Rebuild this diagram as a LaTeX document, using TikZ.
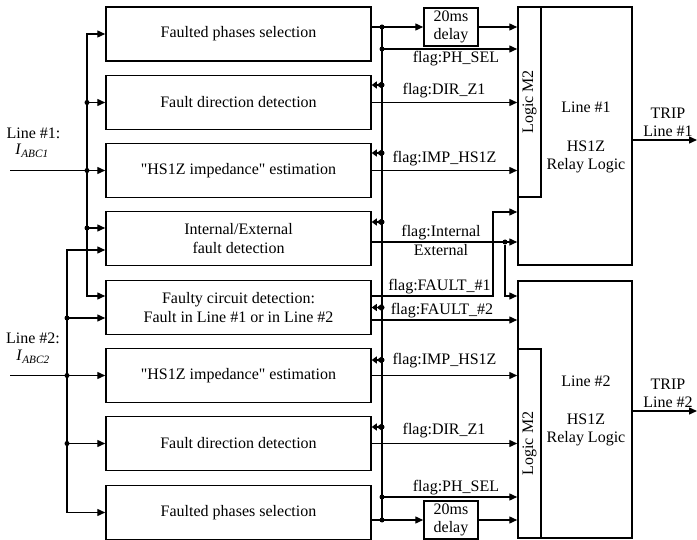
\documentclass[tikz,border=0pt]{standalone}
\usepackage{fontspec}
\setmainfont{Liberation Serif}
\usepackage{tikz}
\usetikzlibrary{arrows.meta}

\begin{document}
\begin{tikzpicture}[
    x=1pt, y=-1pt,
    every node/.style={font=\fontsize{16}{19}\selectfont},
    block/.style={draw, line width=1.5pt, minimum width=265pt, minimum height=54pt, inner sep=0pt, align=center},
    delaybox/.style={draw, line width=1.5pt, minimum width=54pt, minimum height=38pt, inner sep=0pt, align=center, font=\fontsize{16}{18}\selectfont},
    relay/.style={draw, line width=1.5pt, minimum width=114pt, inner sep=0pt},
    logicm/.style={draw, line width=1.5pt, minimum height=23pt, inner sep=0pt, rotate=90},
    relaytext/.style={align=center, inner sep=0pt, font=\fontsize{16}{18}\selectfont},
    flag/.style={anchor=base, inner sep=0pt},
    wire/.style={line width=1.4pt},
    arrow/.style={-{Triangle[length=8pt,width=7pt]}, line width=1.4pt},
    biarrow/.style={{Triangle[length=8pt,width=7pt]}-{Triangle[length=8pt,width=7pt]}, line width=1.4pt},
    dblarrow/.style={-{Triangle[length=5pt,width=7pt]Triangle[length=5pt,width=7pt]}, line width=1.4pt},
    dot/.style={circle, fill, inner sep=0pt, minimum size=5pt}
]
    \useasboundingbox (0,0) rectangle (697,540);

    % Function blocks
    \node[block] (b1) at (238.5,34) {Faulted phases selection};
    \node[block] (b2) at (238.5,102.5) {Fault direction detection};
    \node[block] (b3) at (238.5,170.5) {\textquotedbl HS1Z impedance\textquotedbl{} estimation};
    \node[block] (b4) at (238.5,238.5) {Internal/External\\fault detection};
    \node[block] (b5) at (238.5,307.5) {Faulty circuit detection:\\Fault in Line \#1 or in Line \#2};
    \node[block] (b6) at (238.5,375.5) {\textquotedbl HS1Z impedance\textquotedbl{} estimation};
    \node[block] (b7) at (238.5,443.5) {Fault direction detection};
    \node[block] (b8) at (238.5,512.5) {Faulted phases selection};

    % Delays
    \node[delaybox] (d1) at (451,27) {20ms\\delay};
    \node[delaybox] (d2) at (451,520) {20ms\\delay};

    % Relay logic Line #1
    \node[relay, minimum height=258pt] (r1) at (575,136) {};
    \node[logicm, minimum width=190pt] (m1) at (529.5,102) {Logic M2};
    \node[relaytext] (t1) at (586,137.5) {Line \#1\\[21pt]HS1Z\\Relay Logic};

    % Relay logic Line #2
    \node[relay, minimum height=257pt] (r2) at (575,409.5) {};
    \node[logicm, minimum width=189pt] (m2) at (529.5,443.5) {Logic M2};
    \node[relaytext] (t2) at (586,411) {Line \#2\\[20pt]HS1Z\\Relay Logic};

    % Buses and ports
    \coordinate (busL1) at (87,0);
    \coordinate (busL2) at (67,0);
    \coordinate (busR) at (382,0);
    \coordinate (p4a) at ([yshift=10.5pt]b4.west);
    \coordinate (p4b) at ([yshift=-11.5pt]b4.west);
    \coordinate (p5a) at ([yshift=11.5pt]b5.west);
    \coordinate (p5b) at ([yshift=-10.5pt]b5.west);
    \coordinate (in1) at (10,170.5);
    \coordinate (in2) at (10,375.5);

    % Line #1 input
    \node[anchor=base, inner sep=0pt] (l1) at (33.5,139) {Line \#1:};
    \node[anchor=base, inner sep=0pt] (i1) at (32,155) {\textit{I}\textsubscript{\textit{ABC1}}};
    \draw[biarrow] (b1.west) -| (busL1 |- p5a) -- (p5a);
    \draw[arrow] (busL1 |- b2.west) -- (b2.west);
    \draw[arrow] (in1) -- (b3.west);
    \draw[arrow] (busL1 |- p4a) -- (p4a);
    \foreach \p [count=\i] in {b2.west, b3.west, p4a}
        \node[dot] (ja\i) at (busL1 |- \p) {};

    % Line #2 input
    \node[anchor=base, inner sep=0pt] (l2) at (33,344) {Line \#2:};
    \node[anchor=base, inner sep=0pt] (i2) at (33,361) {\textit{I}\textsubscript{\textit{ABC2}}};
    \draw[biarrow] (p4b) -| (busL2 |- b8.west) -- (b8.west);
    \draw[arrow] (busL2 |- p5b) -- (p5b);
    \draw[arrow] (in2) -- (b6.west);
    \draw[arrow] (busL2 |- b7.west) -- (b7.west);
    \foreach \p [count=\i] in {p5b, b6.west, b7.west}
        \node[dot] (jb\i) at (busL2 |- \p) {};

    % Phase selection bus
    \draw[wire] (busR |- d1) -- (busR |- d2);
    \draw[arrow] (b1.east |- d1) -- (d1.west);
    \draw[arrow] (d1.east) -- (d1.east -| r1.west);
    \draw[arrow] (busR |- 0,49) -- (r1.west |- 0,49);
    \draw[arrow] (busR |- 0,497) -- (r2.west |- 0,497);
    \draw[arrow] (b8.east |- d2) -- (d2.west);
    \draw[arrow] (d2.east) -- (d2.east -| r2.west);
    \foreach \p [count=\i] in {d1, {0,49}, {0,497}, d2}
        \node[dot] (jc\i) at (busR |- \p) {};
    \foreach \b/\s [count=\i] in {b2/17.5, b3/17.5, b4/16.5, b5/0, b6/15.5, b7/16.5} {
        \coordinate (f\i) at ([yshift=\s pt]\b.east);
        \draw[dblarrow] (f\i -| busR) -- (f\i);
        \node[dot] (fd\i) at (f\i -| busR) {};
    }

    % Flags
    \draw[arrow] (b2.east) -- (b2.east -| r1.west);
    \draw[arrow] (b3.east) -- (b3.east -| r1.west);
    \coordinate (o4) at ([yshift=-3.5pt]b4.east);
    \draw[arrow] (o4) -- (o4 -| r1.west);
    \node[dot] (ie) at (o4 -| 505,0) {};
    \draw[arrow] (ie) |- (r2.west |- 0,296);
    \draw[arrow] (b5.east |- 0,296) -| (493,212) -- (r1.west |- 0,212);
    \draw[arrow] (b5.east |- 0,320) -- (r2.west |- 0,320);
    \draw[arrow] (b6.east) -- (b6.east -| r2.west);
    \draw[arrow] (b7.east) -- (b7.east -| r2.west);

    \node[flag] (fl1) at (456,63) {flag:PH\_SEL};
    \node[flag] (fl2) at (444,95) {flag:DIR\_Z1};
    \node[flag] (fl3) at (444.5,163) {flag:IMP\_HS1Z};
    \node[flag] (fl4) at (441,237) {flag:Internal};
    \node[flag] (fl5) at (441,256) {External};
    \node[flag] (fl6) at (439.5,291) {flag:FAULT\_\#1};
    \node[flag] (fl7) at (442,315) {flag:FAULT\_\#2};
    \node[flag] (fl8) at (444.5,365) {flag:IMP\_HS1Z};
    \node[flag] (fl9) at (444,435) {flag:DIR\_Z1};
    \node[flag] (fl10) at (456,491) {flag:PH\_SEL};

    % Trip outputs
    \coordinate (trip1) at (697,140);
    \draw[arrow] (r1.east |- trip1) -- (trip1);
    \node[relaytext] (tl1) at (668,122) {TRIP\\Line \#1};
    \coordinate (trip2) at (697,411);
    \draw[arrow] (r2.east |- trip2) -- (trip2);
    \node[relaytext] (tl2) at (668,393.5) {TRIP\\Line \#2};

\end{tikzpicture}
\end{document}
